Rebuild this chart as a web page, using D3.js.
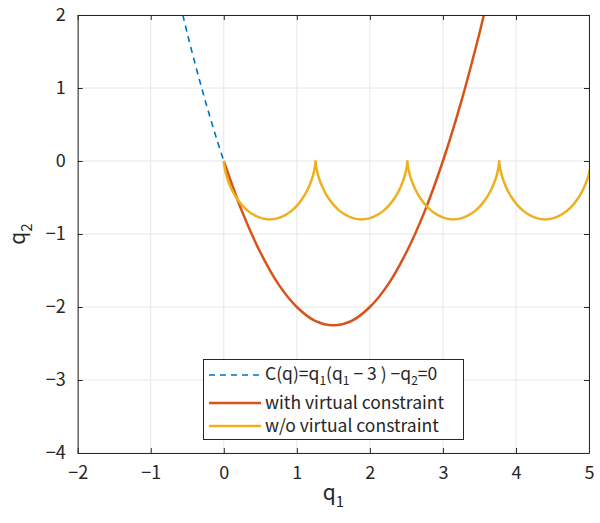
<!DOCTYPE html>
<html>
<head>
<meta charset="utf-8">
<script src="https://cdn.jsdelivr.net/npm/d3@7"></script>
<style>
  body { margin: 0; background: #fff; }
  text { font-family: "Noto Sans CJK JP", "Noto Sans", sans-serif; fill: #262626; }
</style>
</head>
<body>
<div id="chart"></div>
<script>
// constraint curve q2 = q1(q1-3), dashed part (q1 < 0)
var constraintQ1 = [-0.56, -0.5, -0.4, -0.3, -0.2, -0.1, 0];
var constraintQ2 = [2.0, 1.75, 1.36, 0.99, 0.64, 0.31, 0];

// with virtual constraint
var withQ1 = [0, 0.25, 0.5, 0.75, 1, 1.25, 1.5, 1.75, 2, 2.25, 2.5, 2.75, 3, 3.25, 3.5, 3.56];
var withQ2 = [0, -0.69, -1.25, -1.69, -2, -2.19, -2.25, -2.19, -2, -1.69, -1.25, -0.69, 0, 0.81, 1.75, 2.0];

// w/o virtual constraint (four arches, the last one cut by the axes)
var freeQ1 = [0, 0.001, 0.005, 0.016, 0.036, 0.069, 0.114, 0.173, 0.246, 0.330, 0.424, 0.524, 0.628,
              0.733, 0.833, 0.927, 1.011, 1.084, 1.143, 1.188, 1.221, 1.241, 1.252, 1.256, 1.257,
              1.258, 1.262, 1.273, 1.293, 1.326, 1.371, 1.430, 1.503, 1.587, 1.681, 1.781, 1.885,
              1.990, 2.090, 2.184, 2.268, 2.341, 2.400, 2.445, 2.478, 2.498, 2.509, 2.513, 2.514,
              2.515, 2.519, 2.530, 2.550, 2.583, 2.628, 2.687, 2.760, 2.844, 2.938, 3.038, 3.142,
              3.247, 3.347, 3.441, 3.525, 3.598, 3.657, 3.702, 3.735, 3.755, 3.766, 3.770, 3.771,
              3.772, 3.776, 3.787, 3.807, 3.840, 3.885, 3.944, 4.017, 4.101, 4.195, 4.295, 4.399,
              4.504, 4.604, 4.698, 4.782, 4.855, 4.914, 4.959, 4.992, 5.012, 5.023, 5.027, 5.028];
var freeQ2 = [0, -0.014, -0.054, -0.117, -0.2, -0.297, -0.4, -0.504, -0.6, -0.683, -0.746, -0.786, -0.8,
              -0.786, -0.746, -0.683, -0.6, -0.504, -0.4, -0.297, -0.2, -0.117, -0.054, -0.014, 0,
              -0.014, -0.054, -0.117, -0.2, -0.297, -0.4, -0.504, -0.6, -0.683, -0.746, -0.786, -0.8,
              -0.786, -0.746, -0.683, -0.6, -0.504, -0.4, -0.297, -0.2, -0.117, -0.054, -0.014, 0,
              -0.014, -0.054, -0.117, -0.2, -0.297, -0.4, -0.504, -0.6, -0.683, -0.746, -0.786, -0.8,
              -0.786, -0.746, -0.683, -0.6, -0.504, -0.4, -0.297, -0.2, -0.117, -0.054, -0.014, 0,
              -0.014, -0.054, -0.117, -0.2, -0.297, -0.4, -0.504, -0.6, -0.683, -0.746, -0.786, -0.8,
              -0.786, -0.746, -0.683, -0.6, -0.504, -0.4, -0.297, -0.2, -0.117, -0.054, -0.014, 0];

var xTicks = [-2, -1, 0, 1, 2, 3, 4, 5];
var yTicks = [-4, -3, -2, -1, 0, 1, 2];

var W = 600, H = 523;
var margin = {top: 15, right: 11, bottom: 70, left: 77.7};
var width = W - margin.left - margin.right,
    height = H - margin.top - margin.bottom;

var svg = d3.select("#chart").append("svg")
    .attr("width", W).attr("height", H);
var g = svg.append("g")
    .attr("transform", "translate(" + margin.left + "," + margin.top + ")");

var x = d3.scaleLinear().domain([-2, 5]).range([0, width]);
var y = d3.scaleLinear().domain([-4, 2]).range([height, 0]);

// grid
g.append("g").selectAll("line").data(xTicks).enter().append("line")
  .attr("x1", d => x(d)).attr("x2", d => x(d)).attr("y1", 0).attr("y2", height)
  .attr("stroke", "#e6e6e6").attr("stroke-width", 1);
g.append("g").selectAll("line").data(yTicks).enter().append("line")
  .attr("y1", d => y(d)).attr("y2", d => y(d)).attr("x1", 0).attr("x2", width)
  .attr("stroke", "#e6e6e6").attr("stroke-width", 1);

// curves
g.append("clipPath").attr("id", "clip").append("rect")
  .attr("width", width).attr("height", height);
var plot = g.append("g").attr("clip-path", "url(#clip)");

var line = d3.line().x(d => x(d[0])).y(d => y(d[1])).curve(d3.curveCatmullRom);

plot.append("path").datum(d3.zip(constraintQ1, constraintQ2))
  .attr("d", line).attr("fill", "none")
  .attr("stroke", "#0072BD").attr("stroke-width", 1.6).attr("stroke-dasharray", "6,5");
plot.append("path").datum(d3.zip(withQ1, withQ2))
  .attr("d", line).attr("fill", "none")
  .attr("stroke", "#D95319").attr("stroke-width", 2.5);
plot.append("path").datum(d3.zip(freeQ1, freeQ2))
  .attr("d", line).attr("fill", "none")
  .attr("stroke", "#EDB120").attr("stroke-width", 2.5).attr("stroke-linejoin", "round");

// axes
var fs = "18px";
var fmt = d => d < 0 ? "\u2212" + Math.abs(d) : d;
g.append("g").attr("transform", "translate(0," + height + ")")
  .call(d3.axisBottom(x).tickValues(xTicks).tickSizeInner(-5).tickSizeOuter(0).tickPadding(13).tickFormat(fmt));
g.append("g")
  .call(d3.axisLeft(y).tickValues(yTicks).tickSizeInner(-5).tickSizeOuter(0).tickPadding(12).tickFormat(fmt));
g.append("g")
  .call(d3.axisTop(x).tickValues(xTicks).tickSizeInner(-5).tickSizeOuter(0).tickFormat(""));
g.append("g").attr("transform", "translate(" + width + ",0)")
  .call(d3.axisRight(y).tickValues(yTicks).tickSizeInner(-5).tickSizeOuter(0).tickFormat(""));
g.selectAll(".domain").attr("stroke", "#262626");
g.selectAll(".tick line").attr("stroke", "#262626");
g.selectAll(".tick text").style("font-size", fs).attr("fill", "#262626")
  .style("font-family", "'Noto Sans CJK JP', sans-serif");

// axis labels
var xl = svg.append("text").attr("x", margin.left + width / 2).attr("y", 500)
  .attr("text-anchor", "middle").style("font-size", "21px");
xl.append("tspan").text("q");
xl.append("tspan").attr("dy", 7).style("font-size", "15px").text("1");

var yl = svg.append("text")
  .attr("transform", "translate(25," + (margin.top + height / 2) + ") rotate(-90)")
  .attr("text-anchor", "middle").style("font-size", "21px");
yl.append("tspan").text("q");
yl.append("tspan").attr("dy", 7).style("font-size", "15px").text("2");

// legend
var leg = svg.append("g");
leg.append("rect").attr("x", 203.5).attr("y", 359.5).attr("width", 260).attr("height", 80)
  .attr("fill", "#fff").attr("stroke", "#262626").attr("stroke-width", 1);
var rows = [
  {y: 375, color: "#0072BD", dash: "6,5", w: 1.6},
  {y: 403, color: "#D95319", dash: null, w: 2.5},
  {y: 426, color: "#EDB120", dash: null, w: 2.5}
];
rows.forEach(function (r) {
  leg.append("line").attr("x1", 209).attr("x2", 261).attr("y1", r.y).attr("y2", r.y)
    .attr("stroke", r.color).attr("stroke-width", r.w).attr("stroke-dasharray", r.dash);
});
var t1 = leg.append("text").attr("x", 265).attr("y", 380).style("font-size", "17.5px");
t1.append("tspan").text("C(q)=q");
t1.append("tspan").attr("dy", 5).style("font-size", "12px").text("1");
t1.append("tspan").attr("dy", -5).text("(q");
t1.append("tspan").attr("dy", 5).style("font-size", "12px").text("1");
t1.append("tspan").attr("dy", -5).text(" \u2212 3 ) \u2212q");
t1.append("tspan").attr("dy", 5).style("font-size", "12px").text("2");
t1.append("tspan").attr("dy", -5).text("=0");
leg.append("text").attr("x", 265).attr("y", 409).style("font-size", "17.5px").text("with virtual constraint");
leg.append("text").attr("x", 265).attr("y", 432).style("font-size", "17.5px").text("w/o virtual constraint");
</script>
</body>
</html>
